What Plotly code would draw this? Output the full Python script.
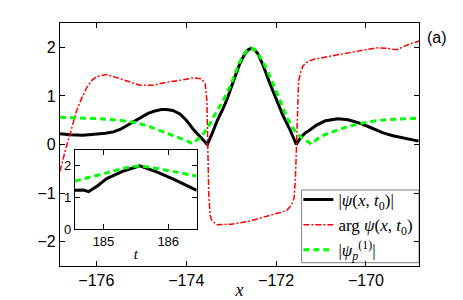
import plotly.graph_objects as go

# ---- main panel data ----
x_abs = [-176.81, -176.6, -176.3, -176.0, -175.8, -175.62, -175.45, -175.3, -175.15, -175.0,
         -174.85, -174.7, -174.55, -174.44, -174.3, -174.14, -174.0, -173.84, -173.7, -173.53,
         -173.4, -173.32, -173.2, -173.1, -172.95, -172.81, -172.7, -172.62, -172.55, -172.48,
         -172.4, -172.29, -172.15, -171.99, -171.85, -171.69, -171.55, -171.45, -171.35, -171.25,
         -171.1, -170.9, -170.62, -170.4, -170.14, -169.9, -169.62, -169.4, -169.18, -169.0,
         -168.83]
y_abs = [0.22, 0.20, 0.19, 0.21, 0.23, 0.26, 0.32, 0.40, 0.48, 0.57,
         0.64, 0.69, 0.72, 0.72, 0.70, 0.63, 0.50, 0.31, 0.16, 0.0,
         0.28, 0.47, 0.70, 0.91, 1.30, 1.66, 1.86, 1.95, 1.98, 1.95,
         1.86, 1.63, 1.28, 0.91, 0.60, 0.30, 0.0, 0.15, 0.24, 0.30,
         0.40, 0.49, 0.53, 0.51, 0.44, 0.35, 0.24, 0.18, 0.14, 0.11,
         0.07]

x_arg = [-176.81, -176.75, -176.69, -176.56, -176.44, -176.32, -176.21, -176.1, -175.99, -175.77,
         -175.47, -175.03, -174.73, -174.44, -174.14, -173.84, -173.66, -173.58, -173.54, -173.52,
         -173.50, -173.47, -173.43, -173.32, -173.0, -172.6, -172.29, -172.0, -171.77, -171.66,
         -171.6, -171.57, -171.55, -171.53, -171.50, -171.45, -171.4, -171.3, -171.18, -170.66,
         -170.21, -169.77, -169.55, -169.32, -169.02, -168.81]
y_arg = [-0.55, -0.33, -0.12, 0.30, 0.70, 0.97, 1.18, 1.32, 1.40, 1.44,
         1.35, 1.22, 1.22, 1.28, 1.32, 1.37, 1.35, 1.25, 0.90, 0.0,
         -1.0, -1.45, -1.57, -1.65, -1.64, -1.58, -1.50, -1.43, -1.36, -1.25,
         -1.10, -0.70, 0.0, 0.80, 1.30, 1.50, 1.62, 1.70, 1.75, 1.84,
         1.92, 1.99, 1.98, 1.95, 2.07, 2.13]

x_p1 = [-176.81, -176.3, -175.92, -175.5, -175.18, -174.88, -174.59, -174.3, -174.14, -174.0,
        -173.86, -173.75, -173.62, -173.5, -173.4, -173.3, -173.18, -173.0, -172.9, -172.81,
        -172.7, -172.62, -172.55, -172.48, -172.4, -172.29, -172.15, -172.0, -171.88, -171.76,
        -171.6, -171.47, -171.34, -171.21, -171.05, -170.88, -170.66, -170.4, -170.14, -169.85,
        -169.55, -169.2, -168.83]
y_p1 = [0.56, 0.55, 0.53, 0.50, 0.46, 0.39, 0.29, 0.19, 0.14, 0.08,
        0.02, 0.10, 0.22, 0.38, 0.56, 0.72, 0.90, 1.25, 1.47, 1.70,
        1.88, 1.95, 1.98, 1.95, 1.86, 1.70, 1.42, 1.11, 0.83, 0.55,
        0.30, 0.17, 0.08, 0.01, 0.14, 0.22, 0.29, 0.37, 0.43, 0.48,
        0.51, 0.53, 0.54]

# ---- inset data ----
t_abs = [184.56, 184.69, 184.77, 184.90, 185.05, 185.31, 185.56, 185.82, 186.08, 186.44]
i_abs = [1.23, 1.24, 1.19, 1.36, 1.60, 1.84, 2.0, 1.81, 1.58, 1.23]
t_p1 = [184.56, 184.8, 185.05, 185.3, 185.56, 185.82, 186.08, 186.44]
i_p1 = [1.52, 1.65, 1.78, 1.92, 2.0, 1.92, 1.82, 1.68]

x_ticks = [-176, -174, -172, -170]
x_ticklabels = ["−176", "−174", "−172", "−170"]
y_ticks = [-2, -1, 0, 1, 2]
y_ticklabels = ["−2", "−1", "0", "1", "2"]
t_ticks = [185, 186]
iy_ticks = [0, 1, 2]

names = ["|<i>ψ</i>(<i>x</i>, <i>t</i><sub>0</sub>)|",
         "arg <i>ψ</i>(<i>x</i>, <i>t</i><sub>0</sub>)",
         "|<i>ψ</i><sub><i>p</i></sub><sup>(1)</sup>|"]

BLACK = "#000000"
RED = "#ff0000"
GREEN = "#00ff00"

fig = go.Figure()
fig.add_trace(go.Scatter(x=x_abs, y=y_abs, mode="lines", name=names[0],
                         line=dict(color=BLACK, width=3)))
fig.add_trace(go.Scatter(x=x_arg, y=y_arg, mode="lines", name=names[1],
                         line=dict(color=RED, width=1.5, dash="6px,2px,2px,2px")))
fig.add_trace(go.Scatter(x=x_p1, y=y_p1, mode="lines", name=names[2],
                         line=dict(color=GREEN, width=3, dash="6px,4px")))

fig.add_trace(go.Scatter(x=t_abs, y=i_abs, mode="lines", showlegend=False,
                         xaxis="x2", yaxis="y2",
                         line=dict(color=BLACK, width=3)))
fig.add_trace(go.Scatter(x=t_p1, y=i_p1, mode="lines", showlegend=False,
                         xaxis="x2", yaxis="y2",
                         line=dict(color=GREEN, width=3, dash="6px,4px", shape="spline", smoothing=0.6)))

axis_common = dict(showline=True, linecolor="black", linewidth=1.2, mirror="ticks",
                   ticks="inside", ticklen=5, tickcolor="black", showgrid=False,
                   zeroline=False, automargin=False)

fig.update_layout(
    width=463, height=300,
    margin=dict(l=60, r=44, t=23, b=34, autoexpand=False),
    paper_bgcolor="white", plot_bgcolor="white",
    font=dict(family="Liberation Sans, Arial, sans-serif", size=16, color="black"),
    xaxis=dict(range=[-176.81, -168.82], tickvals=x_ticks, ticktext=x_ticklabels,
               domain=[0, 1],
               title=dict(text="<i>x</i>", font=dict(family="Liberation Serif, serif", size=18),
                          standoff=0), **axis_common),
    yaxis=dict(range=[-2.5, 2.5], tickvals=y_ticks, ticktext=y_ticklabels,
               domain=[0, 1], **axis_common),
    xaxis2=dict(range=[184.56, 186.44], tickvals=t_ticks, domain=[0.0418, 0.3808],
                anchor="y2", tickfont=dict(size=13),
                title=dict(text="<i>t</i>", font=dict(family="Liberation Serif, serif", size=15),
                           standoff=0), **axis_common),
    yaxis2=dict(range=[0, 2.5], tickvals=iy_ticks, domain=[0.151, 0.477],
                anchor="x2", tickfont=dict(size=13), **axis_common),
    legend=dict(x=0.664, y=0.1687, xanchor="left", yanchor="middle",
                bgcolor="rgba(0,0,0,0)", borderwidth=0,
                font=dict(family="Liberation Serif, serif", size=17),
                tracegroupgap=0, itemwidth=30),
    showlegend=True,
)

# legend frame
fig.add_shape(type="rect", xref="paper", yref="paper", x0=0.673, x1=1.0, y0=0.0136, y1=0.3128,
              line=dict(color="#808080", width=1), fillcolor="white", layer="below")

fig.add_annotation(text="(a)", xref="paper", yref="paper", x=1.017, y=0.94,
                   xanchor="left", yanchor="middle", showarrow=False,
                   font=dict(size=16))

fig.write_html("out.html", config={"displayModeBar": False},
               post_script="document.body.style.margin='0px';")
